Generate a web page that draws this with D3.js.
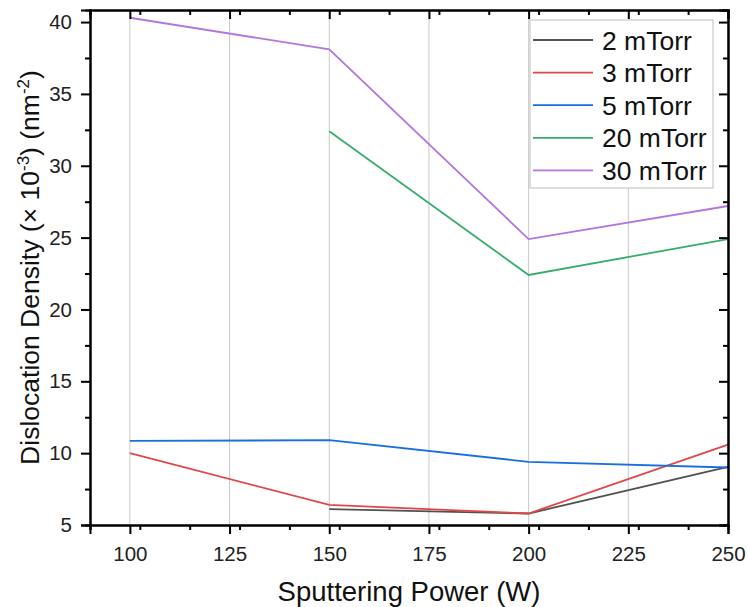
<!DOCTYPE html>
<html>
<head>
<meta charset="utf-8">
<script src="https://cdn.jsdelivr.net/npm/d3@7"></script>
<style>
  body { margin: 0; background: #fff; }
  svg { display: block; font-family: Arial, "Liberation Sans", sans-serif; }
</style>
</head>
<body>
<svg id="chart" width="748" height="607"></svg>
<script>
// data
const power = [100, 150, 200, 250];
const seriesNames = ['2 mTorr', '3 mTorr', '5 mTorr', '20 mTorr', '30 mTorr'];
const seriesColors = ['#515151', '#e04848', '#1a6fdf', '#37ad6b', '#b177de'];
const density2 = [null, 6.1, 5.8, 9.05];
const density3 = [10.0, 6.4, 5.8, 10.6];
const density5 = [10.85, 10.9, 9.4, 9.0];
const density20 = [null, 32.4, 22.4, 24.9];
const density30 = [40.3, 38.1, 24.9, 27.2];
const xTicks = [100, 125, 150, 175, 200, 225, 250];
const yTicks = [5, 10, 15, 20, 25, 30, 35, 40];

const allSeries = [density2, density3, density5, density20, density30];

const margin = { left: 90, top: 10, right: 20, bottom: 82 };
const width = 748 - margin.left - margin.right;
const height = 607 - margin.top - margin.bottom;

const svg = d3.select('#chart');
const g = svg.append('g').attr('transform', `translate(${margin.left},${margin.top})`);

const x = d3.scaleLinear().domain([90, 250]).range([0, width]);
const y = d3.scaleLinear().domain([5, 40.84]).range([height, 0]);

// vertical grid
g.append('g').selectAll('line')
  .data(xTicks)
  .join('line')
    .attr('x1', d => x(d)).attr('x2', d => x(d))
    .attr('y1', 0).attr('y2', height)
    .attr('stroke', '#c8c8c8').attr('stroke-width', 1);

// lines
const line = d3.line()
  .defined(d => d[1] != null)
  .x(d => x(d[0]))
  .y(d => y(d[1]));

allSeries.forEach((vals, i) => {
  g.append('path')
    .datum(power.map((p, j) => [p, vals[j]]))
    .attr('fill', 'none')
    .attr('stroke', seriesColors[i])
    .attr('stroke-width', 1.8)
    .attr('d', line);
});

// axes
const xMinor = d3.range(90, 251, 12.5).filter(v => !xTicks.includes(v));
const yMinor = d3.range(7.5, 40.8, 5);

g.append('g').attr('transform', `translate(0,${height})`)
  .call(d3.axisBottom(x).tickValues(xTicks).tickSize(9).tickPadding(12).tickFormat(d3.format('d')));
g.append('g')
  .call(d3.axisLeft(y).tickValues(yTicks).tickSize(9).tickPadding(9).tickFormat(d3.format('d')));
g.append('g')
  .call(d3.axisTop(x).tickValues(xTicks).tickSize(-9).tickFormat(''));
g.append('g').attr('transform', `translate(${width},0)`)
  .call(d3.axisRight(y).tickValues(yTicks).tickSize(-9).tickFormat(''));

// minor ticks
g.append('g').attr('transform', `translate(0,${height})`)
  .call(d3.axisBottom(x).tickValues(xMinor).tickSize(5).tickFormat(''));
g.append('g')
  .call(d3.axisTop(x).tickValues(xMinor).tickSize(-5).tickFormat(''));
g.append('g')
  .call(d3.axisLeft(y).tickValues(yMinor).tickSize(5).tickFormat(''));
g.append('g').attr('transform', `translate(${width},0)`)
  .call(d3.axisRight(y).tickValues(yMinor).tickSize(-5).tickFormat(''));

g.selectAll('.domain').attr('stroke', '#000').attr('stroke-width', 2);
g.selectAll('.tick line').attr('stroke', '#000').attr('stroke-width', 2);
g.selectAll('.tick text').attr('font-size', 20.5).attr('fill', '#222')
  .attr('font-family', 'Arial, "Liberation Sans", sans-serif');

// axis titles
svg.append('text')
  .attr('x', margin.left + width / 2)
  .attr('y', 601)
  .attr('text-anchor', 'middle')
  .attr('font-size', 27.5)
  .attr('fill', '#111')
  .text('Sputtering Power (W)');

const yTitle = svg.append('text')
  .attr('transform', `translate(39,${margin.top + height / 2}) rotate(-90)`)
  .attr('text-anchor', 'middle')
  .attr('font-size', 26.5)
  .attr('fill', '#111');
yTitle.append('tspan').text('Dislocation Density (× 10');
yTitle.append('tspan').attr('dy', -10).attr('font-size', 17).text('-3');
yTitle.append('tspan').attr('dy', 10).text(') (nm');
yTitle.append('tspan').attr('dy', -10).attr('font-size', 17).text('-2');
yTitle.append('tspan').attr('dy', 10).text(')');

// legend
const legend = svg.append('g').attr('transform', 'translate(530,20)');
legend.append('rect')
  .attr('width', 183).attr('height', 168)
  .attr('fill', '#fff').attr('stroke', '#c8c8c8').attr('stroke-width', 1.2);

seriesNames.forEach((name, i) => {
  const row = legend.append('g').attr('transform', `translate(0,${20 + i * 32.6})`);
  row.append('line')
    .attr('x1', 3).attr('x2', 63)
    .attr('stroke', seriesColors[i]).attr('stroke-width', 1.8);
  row.append('text')
    .attr('x', 72).attr('y', 9.5)
    .attr('font-size', 26.5).attr('fill', '#111')
    .text(name);
});
</script>
</body>
</html>
